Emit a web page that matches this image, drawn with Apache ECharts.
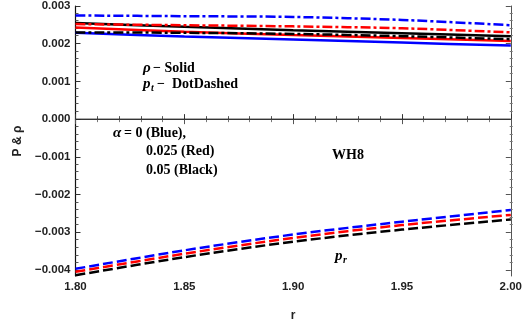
<!DOCTYPE html>
<html>
<head>
<meta charset="utf-8">
<script src="https://cdn.jsdelivr.net/npm/echarts@6/dist/echarts.min.js"></script>
<style>
  html, body { margin: 0; padding: 0; background: #fff; }
  #chart { width: 525px; height: 327px; }
</style>
</head>
<body>
<div id="chart"></div>
<script>
// radial coordinate samples
const r = [1.80, 1.85, 1.90, 1.95, 2.00];

// energy density rho (solid)
const rhoBlue  = [0.00229, 0.00219, 0.00211, 0.00203, 0.00195];
const rhoRed   = [0.00243, 0.00232, 0.00223, 0.00215, 0.00207];
const rhoBlack = [0.00255, 0.00245, 0.00236, 0.00228, 0.00220];

// tangential pressure p_t (dot-dashed)
const ptBlue  = [0.00275, 0.00273, 0.00271, 0.00263, 0.00249];
const ptRed   = [0.00252, 0.00249, 0.00246, 0.00241, 0.00230];
const ptBlack = [0.00230, 0.00229, 0.00226, 0.00220, 0.00212];

// radial pressure p_r (dashed)
const prBlue  = [-0.00397, -0.00348, -0.00306, -0.00272, -0.00241];
const prRed   = [-0.00405, -0.00357, -0.00315, -0.00281, -0.00254];
const prBlack = [-0.00414, -0.00366, -0.00325, -0.00293, -0.00266];

// axis ticks
const yMajor = [-0.004, -0.003, -0.002, -0.001, 0, 0.001, 0.002, 0.003];
const yMinor = [];
for (let k = -20; k <= 15; k++) {
  if (k % 5 !== 0) yMinor.push(+(k * 0.0002).toFixed(4));
}

const Y_MIN = -0.00416, Y_MAX = 0.003;
const X_MIN = 1.80, X_MAX = 2.00;

const BLUE = '#0000ff', RED = '#ff0000', BLACK = '#000000';
const DOTDASH = [10, 3, 3, 3];
const DASH = [10, 4];

function curve(name, values, color, dash) {
  return {
    name: name,
    type: 'line',
    data: r.map((x, i) => [x, values[i]]),
    showSymbol: false,
    smooth: 0.3,
    silent: true,
    lineStyle: { color: color, width: 2.5, type: dash, cap: 'butt' }
  };
}

const labelFont = { fontFamily: 'Liberation Sans', fontWeight: 'bold', fontSize: 11.5, color: '#222' };
const serif = '"Liberation Serif", serif';
const grid = { left: 75.5, right: 12.3, top: 5.5, bottom: 51 };

function fmtY(v) {
  const s = Math.abs(v).toFixed(3);
  return v < -1e-9 ? '\u2212' + s : s;
}

function label(x, y, text, font) {
  return { type: 'text', x: x, y: y, silent: true,
    style: { text: text, font: font, fill: '#000', verticalAlign: 'middle' } };
}
const T = 'bold 14px ' + serif;
const TI = 'italic bold 15px ' + serif;
const TS = 'italic bold 10px ' + serif;

const option = {
  animation: false,
  backgroundColor: '#fff',
  grid: [grid, grid],
  xAxis: [
    {
      type: 'value', gridIndex: 0, position: 'bottom',
      min: X_MIN, max: X_MAX, interval: 0.05,
      axisLine: { show: true, lineStyle: { color: '#111', width: 1.2 } },
      axisTick: { show: true, inside: true, length: 5, lineStyle: { color: '#333' } },
      minorTick: { show: true, splitNumber: 5, length: 3, lineStyle: { color: '#555' } },
      splitLine: { show: false },
      axisLabel: Object.assign({ formatter: v => v.toFixed(2), margin: 5 }, labelFont),
      name: 'r', nameLocation: 'middle', nameGap: 34,
      nameTextStyle: { fontFamily: 'Liberation Sans', fontWeight: 'bold', fontSize: 12, color: '#222' }
    },
    {
      type: 'value', gridIndex: 0, position: 'top',
      min: X_MIN, max: X_MAX, interval: 0.05,
      axisLine: { show: true, lineStyle: { color: '#555', width: 1 } },
      axisTick: { show: true, inside: true, length: 5, lineStyle: { color: '#555' } },
      minorTick: { show: true, splitNumber: 5, length: 3, lineStyle: { color: '#777' } },
      splitLine: { show: false },
      axisLabel: { show: false }
    },
    { type: 'value', gridIndex: 1, min: X_MIN, max: X_MAX, show: false }
  ],
  yAxis: [
    {
      type: 'value', gridIndex: 0, position: 'left',
      min: Y_MIN, max: Y_MAX,
      axisLine: { show: true, lineStyle: { color: '#111', width: 1.2 } },
      axisTick: { show: true, inside: true, length: 5, customValues: yMajor, lineStyle: { color: '#333' } },
      splitLine: { show: false },
      axisLabel: Object.assign({ customValues: yMajor, formatter: fmtY, margin: 5 }, labelFont),
      name: 'P & \u03c1', nameLocation: 'middle', nameGap: 52,
      nameTextStyle: { fontFamily: 'Liberation Sans', fontWeight: 'bold', fontSize: 12, color: '#222' }
    },
    {
      type: 'value', gridIndex: 0, position: 'right',
      min: Y_MIN, max: Y_MAX,
      axisLine: { show: true, lineStyle: { color: '#555', width: 1 } },
      axisTick: { show: true, inside: true, length: 5, customValues: yMajor, lineStyle: { color: '#555' } },
      splitLine: { show: false },
      axisLabel: { show: false }
    },
    {
      type: 'value', gridIndex: 1, position: 'left',
      min: Y_MIN, max: Y_MAX,
      axisLine: { show: false },
      axisTick: { show: true, inside: true, length: 3, customValues: yMinor, lineStyle: { color: '#555' } },
      splitLine: { show: false },
      axisLabel: { show: false }
    },
    {
      type: 'value', gridIndex: 1, position: 'right',
      min: Y_MIN, max: Y_MAX,
      axisLine: { show: false },
      axisTick: { show: true, inside: true, length: 3, customValues: yMinor, lineStyle: { color: '#777' } },
      splitLine: { show: false },
      axisLabel: { show: false }
    }
  ],
  series: [
    Object.assign(curve('zero', [0, 0, 0, 0, 0], '#222', 'solid'), {
      lineStyle: { color: '#222', width: 1 }, smooth: false, z: 1
    }),
    curve('rho a=0', rhoBlue, BLUE, 'solid'),
    curve('rho a=0.025', rhoRed, RED, 'solid'),
    curve('rho a=0.05', rhoBlack, BLACK, 'solid'),
    curve('pt a=0.05', ptBlack, BLACK, DOTDASH),
    curve('pt a=0.025', ptRed, RED, DOTDASH),
    curve('pt a=0', ptBlue, BLUE, DOTDASH),
    curve('pr a=0.05', prBlack, BLACK, DASH),
    curve('pr a=0.025', prRed, RED, DASH),
    curve('pr a=0', prBlue, BLUE, DASH)
  ],
  graphic: [
    label(143, 68, '\u03c1', TI),
    label(153, 68, '\u2212 Solid', T),
    label(143, 84, 'p', TI),
    label(151, 88, 't', TS),
    label(157, 84, '\u2212  DotDashed', T),
    label(113, 133, '\u03b1', TI),
    label(124, 133, '= 0 (Blue),', T),
    label(146, 151, '0.025 (Red)', T),
    label(146, 170, '0.05 (Black)', T),
    label(332, 155, 'WH8', T),
    label(335, 256, 'p', TI),
    label(343, 260, 'r', TS)
  ]
};

const chart = echarts.init(document.getElementById('chart'), null, { renderer: 'canvas' });
chart.setOption(option);
</script>
</body>
</html>
